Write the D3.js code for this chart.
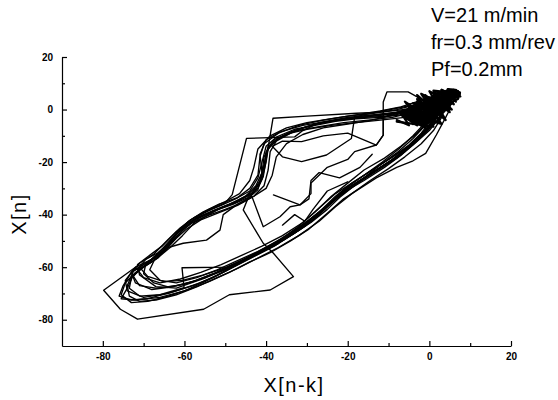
<!DOCTYPE html>
<html>
<head>
<meta charset="utf-8">
<script src="https://cdn.jsdelivr.net/npm/d3@7"></script>
<style>
  html, body { margin: 0; padding: 0; background: #fff; }
  svg { display: block; }
</style>
</head>
<body>
<svg id="chart" width="558" height="400"></svg>
<script>
// Reconstructed phase portrait X[n] versus X[n-k] (delay embedding)
const xTicks = [-80, -60, -40, -20, 0, 20];
const xMinorTicks = [-70, -50, -30, -10, 10];
const yTicks = [20, 0, -20, -40, -60, -80];
const yMinorTicks = [10, -10, -30, -50, -70];
const notes = ["V=21 m/min", "fr=0.3 mm/rev", "Pf=0.2mm"];

// Successive orbits of the trajectory, each as [X[n-k], X[n]] pairs
const lapA = [[3,0],[1,-5],[-2,-10],[-6,-16],[-10,-20],[-15,-25],[-20,-30],[-24,-35],[-28,-41],[-33,-47],[-38,-52],[-43,-56],[-48,-60],[-53,-64],[-58,-67],[-64,-70],[-70,-71.5],[-74,-69],[-74.5,-65],[-72,-60],[-68,-57],[-64,-51],[-61,-46],[-57,-41.5],[-53,-38.5],[-49,-36],[-45,-33],[-42.5,-29],[-41,-24],[-40.5,-18],[-38.5,-12.5],[-35,-9.5],[-31,-7],[-26,-5],[-20,-3.5],[-14,-2.5],[-8,-1.5],[-3,0.5],[1,3]];
const lapB = [[4,1],[2,-4],[-1,-9],[-4,-13],[-8,-18],[-12,-22],[-17,-27],[-22,-32],[-26,-38],[-31,-44],[-36,-49.5],[-41,-54],[-46,-57.5],[-50,-61],[-55,-64],[-60,-66.5],[-64,-67.5],[-67.5,-66],[-70,-62.5],[-69.5,-59],[-66,-54],[-62.5,-48],[-59,-43],[-55,-40],[-51,-37.5],[-47,-35],[-43.5,-32],[-41.5,-27],[-40.5,-21],[-39.5,-14],[-37,-11],[-33,-8],[-28,-5.5],[-22,-4],[-16,-3],[-10,-2.5],[-5,-1],[0,1.5]];
const lapC = [[2,-1],[0,-6],[-3,-11],[-6,-15],[-10,-19],[-14,-23],[-19,-28],[-23,-33],[-27,-39],[-32,-45.5],[-37,-51],[-42,-55],[-47,-59],[-52,-63],[-57,-66.5],[-63,-69.5],[-69,-72],[-73,-72.5],[-76,-71],[-75,-67],[-73,-62],[-70,-59],[-66,-55],[-63,-49.5],[-60,-44],[-56,-40.5],[-52,-38],[-48,-35.5],[-44,-32],[-41.5,-28],[-40.5,-22],[-40,-16],[-38,-11.5],[-34,-8.5],[-29,-6],[-23,-4],[-17,-3],[-11,-2],[-6,-1],[-2,1],[2,2.5]];
const lapD = [[3,2],[2,-3],[-1,-8],[-5,-14],[-9,-19],[-13,-23],[-18,-28.5],[-22,-33.5],[-25,-38],[-29,-43],[-34,-48],[-39,-52.5],[-44,-56.5],[-49,-60],[-55,-64.2],[-62,-68],[-67,-67.4],[-71,-63],[-71.5,-59],[-69,-56],[-65.5,-52],[-62,-46.5],[-58.5,-42],[-55,-39],[-51,-36.5],[-47.5,-34],[-44,-31],[-42,-26],[-41,-20],[-40,-14],[-37.5,-10.5],[-33,-7.5],[-28,-6],[-23,-4.5],[-18,-3.5],[-12,-3],[-7,-2],[-3,0],[0,2]];
const lapE = [[1,0],[-1,-6],[-4,-11],[-8,-16.5],[-12,-21],[-16,-26],[-21,-31],[-25,-36.5],[-29.5,-42],[-34.5,-47.5],[-39.5,-52],[-44.5,-56.5],[-49.6,-60],[-60.6,-60.2],[-60.1,-67.8],[-66,-70.5],[-71,-71],[-73.5,-68],[-73,-64],[-70.5,-60.5],[-67,-57],[-63.5,-52.5],[-60.5,-48],[-57.5,-43],[-54,-40],[-50.5,-37],[-46.5,-34.5],[-43,-31.5],[-41,-26.5],[-40,-20],[-39.5,-15],[-37,-11],[-32.5,-8],[-27,-6.5],[-21,-5],[-15,-4],[-9,-3],[-4,-1],[0,1]];
const lapF = [[2,0],[0,-5],[-2,-9],[-5,-13.5],[-9,-18],[-13,-22],[-18,-27],[-23,-32],[-27,-37.5],[-31,-43],[-36,-48],[-41,-52],[-46,-55.5],[-51,-59],[-56,-62],[-61,-64.5],[-66,-66],[-70,-64],[-72,-60],[-79.8,-68.8],[-75.7,-76],[-71.5,-79.8],[-55.3,-76],[-49,-70.5],[-39,-68.7],[-33.3,-63.6],[-38.2,-54.7],[-40.7,-50.9],[-45.6,-38.2],[-44.5,-34],[-42,-30.5],[-41,-24],[-41.5,-17],[-40,-11.5],[-36.5,-8.5],[-31,-6],[-25,-4.5],[-19,-3],[-13,-2],[-7,-1],[-2,1.5],[2,3.5]];
const lapG = [[4,2],[2,-2],[0,-7],[-3,-12],[-7,-17.5],[-11,-22],[-16,-27],[-21,-31.5],[-25.5,-37],[-30,-43],[-35,-48.5],[-40,-53],[-45,-57],[-50,-61.5],[-55,-65.5],[-60,-69],[-66,-71.5],[-72,-72.5],[-75.5,-72],[-74,-68],[-72.5,-63],[-70,-60],[-66.5,-56.5],[-63,-50.5],[-60,-45],[-57,-41],[-53.5,-38],[-50,-35.5],[-48.3,-32.4],[-44.8,-11],[-33,-10.4],[-31,-8],[-27,-5],[-20,-3],[-14,-2],[-8,-1],[-3,1],[1,3]];
const lapH = [[3,1],[1,-4],[-2,-9.5],[-5.5,-14.5],[-9.5,-19.5],[-14,-24],[-19,-29],[-23,-34],[-27,-40],[-32,-46],[-37,-50.5],[-42,-54.5],[-47,-58.5],[-52,-62],[-57,-65],[-62,-67],[-67,-68],[-71,-67],[-72.5,-63.5],[-71,-60.5],[-67.5,-57.5],[-64.5,-53],[-62,-48.5],[-59.5,-44.5],[-56,-41],[-52.5,-38.5],[-48,-36],[-44.5,-33.5],[-42,-30],[-40.7,-25.6],[-38.3,-3.3],[-30,-2.5],[-17.8,-1.4],[-12,-1],[-6,0],[-1,2],[3,4]];
const lapI = [[2,1],[0,-4],[-3,-9],[-7,-14],[-11,-18.5],[-16,-23],[-20,-28],[-24,-33],[-28,-39],[-32.5,-45],[-37,-50],[-42,-54],[-47,-57.5],[-52,-61],[-57,-64],[-62,-66],[-66,-65],[-68.5,-61],[-67,-56],[-64,-52.5],[-60.3,-50.9],[-54.6,-49.7],[-51.3,-45.9],[-50.5,-40],[-47,-36],[-43.5,-33],[-40.7,-44.6],[-36.6,-40.8],[-34.1,-37],[-31.7,-36.3],[-29,-32],[-29,-28],[-25,-22],[-20,-19],[-18.3,-16],[-13,-13.5],[-11.3,-9.7],[-11.3,-3],[-8,-1],[-3,1],[1,3]];
const lapJ = [[2,3],[-3,2],[-8,0.5],[-13,-1],[-18.3,-2.8],[-19.1,-11],[-25.2,-17.3],[-31.3,-19.8],[-36,-18],[-38.5,-14],[-36,-12],[-31.3,-12.2],[-26,-10],[-20,-9],[-13,-13.5],[-11.3,-9.7],[-11.3,-3],[-11.3,2.9],[-10.4,6.7],[-5.2,6.7],[-2,4],[1,2]];
const lapK = [[5,0],[4,-3],[1.7,-9.7],[-0.9,-16.7],[-4,-19.5],[-8,-22],[-13,-26],[-17,-30],[-21,-34],[-25,-39.5],[-29.5,-45.5],[-34,-50],[-39,-54.5],[-44,-58],[-49,-62],[-54,-65.5],[-59,-68.5],[-64,-71],[-69,-73],[-73,-73.5],[-75.5,-70.5],[-74.5,-66],[-72,-62],[-69,-58.5],[-65,-54],[-62,-49],[-59.5,-45.5],[-56,-42],[-52,-39.5],[-47,-36.5],[-43,-33],[-40.5,-29],[-39.5,-23],[-39,-16],[-37.5,-12],[-34,-9],[-30,-7.5],[-24,-6],[-18,-5],[-12,-4],[-6,-3],[-2,-1],[2,1]];
const lapL = [[6,3],[3,-2],[0,-8],[-4,-13.5],[-8,-18.5],[-12.5,-23],[-17.5,-28],[-22,-33],[-26,-38.5],[-30.5,-44.5],[-35.5,-49.5],[-40.5,-53.5],[-45.5,-57],[-50.5,-60.5],[-55.5,-63],[-60.5,-65],[-65,-65.5],[-69,-63.5],[-71,-60],[-69.5,-57],[-66.5,-54.5],[-63,-50],[-60.5,-46],[-58,-43],[-54.5,-40.5],[-50,-38],[-46,-35.5],[-43,-33],[-40,-30],[-38.5,-25],[-37.5,-18],[-35,-13],[-31,-9.5],[-26,-7],[-20,-5.5],[-14,-4],[-9,-2],[-4,1],[0,3]];
const lapM = [[3,-3],[1,-8],[-2,-13],[-6,-18],[-10,-22.5],[-14.5,-27],[-19,-32],[-23,-37],[-27,-42.5],[-32,-48],[-37,-52.5],[-42,-56.5],[-47,-60.5],[-52,-64],[-57,-67.5],[-62,-70.5],[-67,-72.5],[-71,-73],[-73.5,-71],[-74,-67],[-72.5,-61.5],[-69,-58],[-65,-53.5],[-62,-47],[-59,-42.5],[-55.5,-39],[-51.5,-36],[-47,-33.5],[-44,-30],[-42,-25],[-41.5,-18],[-40.5,-13],[-37,-9],[-32,-6],[-26,-4],[-20,-2.5],[-14,-1.5],[-8,0],[-3,2],[2,4]];
const lapN = [[5,4],[2,0],[-1,-5],[-4,-10],[-7.5,-15],[-11.5,-20],[-16,-25],[-20.5,-30],[-24.5,-36],[-28.5,-42],[-33,-47],[-38,-51],[-43,-55],[-48,-59],[-53,-62.5],[-58,-65.5],[-63,-67.5],[-68,-68.5],[-72,-66],[-73,-62],[-71,-58.5],[-67.5,-55],[-64,-49.5],[-61,-45],[-57.5,-41],[-54,-38],[-50,-35],[-46.5,-32],[-44,-27],[-43,-22],[-42,-15],[-39,-10],[-35,-7],[-30,-5],[-24,-3.5],[-18,-2],[-12,-0.5],[-7,1],[-3,3],[1,5]];
// Short wandering segments inside the loop
const driftA = [[-38.2,-32.5],[-31.7,-36.3],[-29.5,-34],[-29,-27],[-27,-24],[-22,-26],[-17,-22],[-14,-17]];
const driftB = [[-36,-44],[-33,-40],[-30.5,-42.5],[-28.5,-38],[-25,-31],[-20,-27.5]];
// Dense small-amplitude motion around the origin
const core = [[-7,-2],[-3,-6],[-5,1],[-1,-5],[-3,3],[1,-4],[-1,4.5],[3,-2.5],[1,6],[5,0],[3,7],[6.5,3],[5,7.5],[7,5.5],[6,4],[3,5.5],[5,-1],[0,4],[2,-3.5],[-2,2],[0,-5],[-4,0],[-2,-6],[-6,-1],[-5,-4],[-2,-1],[-4,-5.5],[0,0.5],[-2,-3],[2,2.5],[0,-2],[4,4],[2,0],[5.5,5.5],[4,1.5],[6,6.5],[7,7],[4.5,7.5],[2,5],[4,3],[1,3],[3,1],[-1,1.5],[1,-1],[-3,-0.5],[-1,-3.5],[-5,-2],[-3,-4.5],[-6,-3.5],[-4,-2],[-6,0],[-2,0.5],[-4,2.5],[0,2],[-1,5],[3,3.5],[2,6.5],[5,5],[4,7],[6.5,7.5],[7.5,6],[7,4],[5,2.5],[3,-1],[1,-3],[-1,-6],[-3,-3],[-1,0],[1,1.5],[3,4.5],[5.5,6.5],[6,3.5],[4,0],[2,-1.5],[0,-3.5],[-2,-4.5],[-4,-3],[-6.5,-2.5],[-5,0.5],[-3,1.5],[-1,3],[1,4.5],[3,6],[5,7],[6.8,6.8]];
const core2 = [[-8,-4],[-5,-6],[-7,-1],[-3,-5],[-5,2],[-1,-4],[-3,4],[1,-3],[-1,5.5],[3,-1.5],[1,6.5],[5,1],[3,7.5],[6.5,4.5],[7.5,6.5],[6,7.5],[2,6],[5,2],[0,4],[3,-2],[-2,3],[1,-5],[-4,1],[-1,-6],[-6,-2],[-3,-3],[-1,-1],[1,1],[3,3],[5,5],[7,7],[5,3],[3,1],[1,-1.5],[-1,-3],[-3,-1.5],[-1,1],[1,3],[3,5],[5,6.5],[6.5,5.5],[4.5,2.5],[2.5,0],[0.5,-2.5],[-2,-5],[-4,-4],[-2,-2],[0,0],[2,2],[4,4.5],[6,6]];
const core3 = [[-8,-4.6],[1,-6.5],[-3,5.5],[4,-4],[0,7],[6,2],[3,7.5],[7,4.5],[5,6],[2,-5],[-6,3],[-1,-7],[-7.5,-1],[3,-5.5],[-2,6],[5.5,0],[1,7.2],[7.2,6.2],[6,7.6],[4.5,7.8],[7.6,5]];

const laps = [lapA, lapB, lapC, lapD, lapE, lapF, lapG, lapH, lapI, lapJ, lapK, lapL, lapM, lapN, driftA, driftB];

const svg = d3.select("#chart");
const x = d3.scaleLinear().domain([-90, 20]).range([62, 511]);
const y = d3.scaleLinear().domain([-90, 20]).range([346, 57]);

const line = d3.line().x(d => x(d[0])).y(d => y(d[1]));

const plot = svg.append("g").attr("fill", "none").attr("stroke", "#000")
  .attr("stroke-linejoin", "round").attr("stroke-linecap", "round");
laps.forEach(lap => {
  plot.append("path").attr("d", line(lap)).attr("stroke-width", 1.35);
});
[core, core2, core3].forEach(c => {
  plot.append("path").attr("d", line(c)).attr("stroke-width", 2.2);
});

// Axes with inward ticks
const fmt = d => String(d);
svg.append("g").attr("transform", `translate(0,${y(-90)})`)
  .call(d3.axisBottom(x).tickValues(xTicks).tickFormat(fmt).tickSize(-5).tickSizeOuter(0).tickPadding(7));
svg.append("g").attr("transform", `translate(0,${y(-90)})`)
  .call(d3.axisBottom(x).tickValues(xMinorTicks).tickFormat("").tickSize(-3).tickSizeOuter(0))
  .select(".domain").remove();
svg.append("g").attr("transform", `translate(${x(-90)},0)`)
  .call(d3.axisLeft(y).tickValues(yTicks).tickFormat(fmt).tickSize(-5).tickSizeOuter(0).tickPadding(9));
svg.append("g").attr("transform", `translate(${x(-90)},0)`)
  .call(d3.axisLeft(y).tickValues(yMinorTicks).tickFormat("").tickSize(-3).tickSizeOuter(0))
  .select(".domain").remove();

svg.selectAll(".domain, .tick line").attr("stroke", "#000").attr("stroke-width", 1.2);
svg.selectAll(".tick text")
  .attr("font-family", "Arial, 'Liberation Sans', sans-serif")
  .attr("font-size", 10).attr("font-weight", "bold").attr("fill", "#000");

// Axis titles
svg.append("text")
  .attr("x", 294).attr("y", 392)
  .attr("text-anchor", "middle")
  .attr("font-family", "Arial, 'Liberation Sans', sans-serif")
  .attr("font-size", 20).attr("letter-spacing", 1.5)
  .text("X[n-k]");
svg.append("text")
  .attr("transform", "translate(26,214) rotate(-90)")
  .attr("text-anchor", "middle")
  .attr("font-family", "Arial, 'Liberation Sans', sans-serif")
  .attr("font-size", 20).attr("letter-spacing", 1.5)
  .text("X[n]");

// Cutting conditions
svg.append("g").selectAll("text").data(notes).join("text")
  .attr("x", 431).attr("y", (d, i) => 22 + i * 27)
  .attr("font-family", "Arial, 'Liberation Sans', sans-serif")
  .attr("font-size", 20).attr("fill", "#000")
  .text(d => d);
</script>
</body>
</html>
